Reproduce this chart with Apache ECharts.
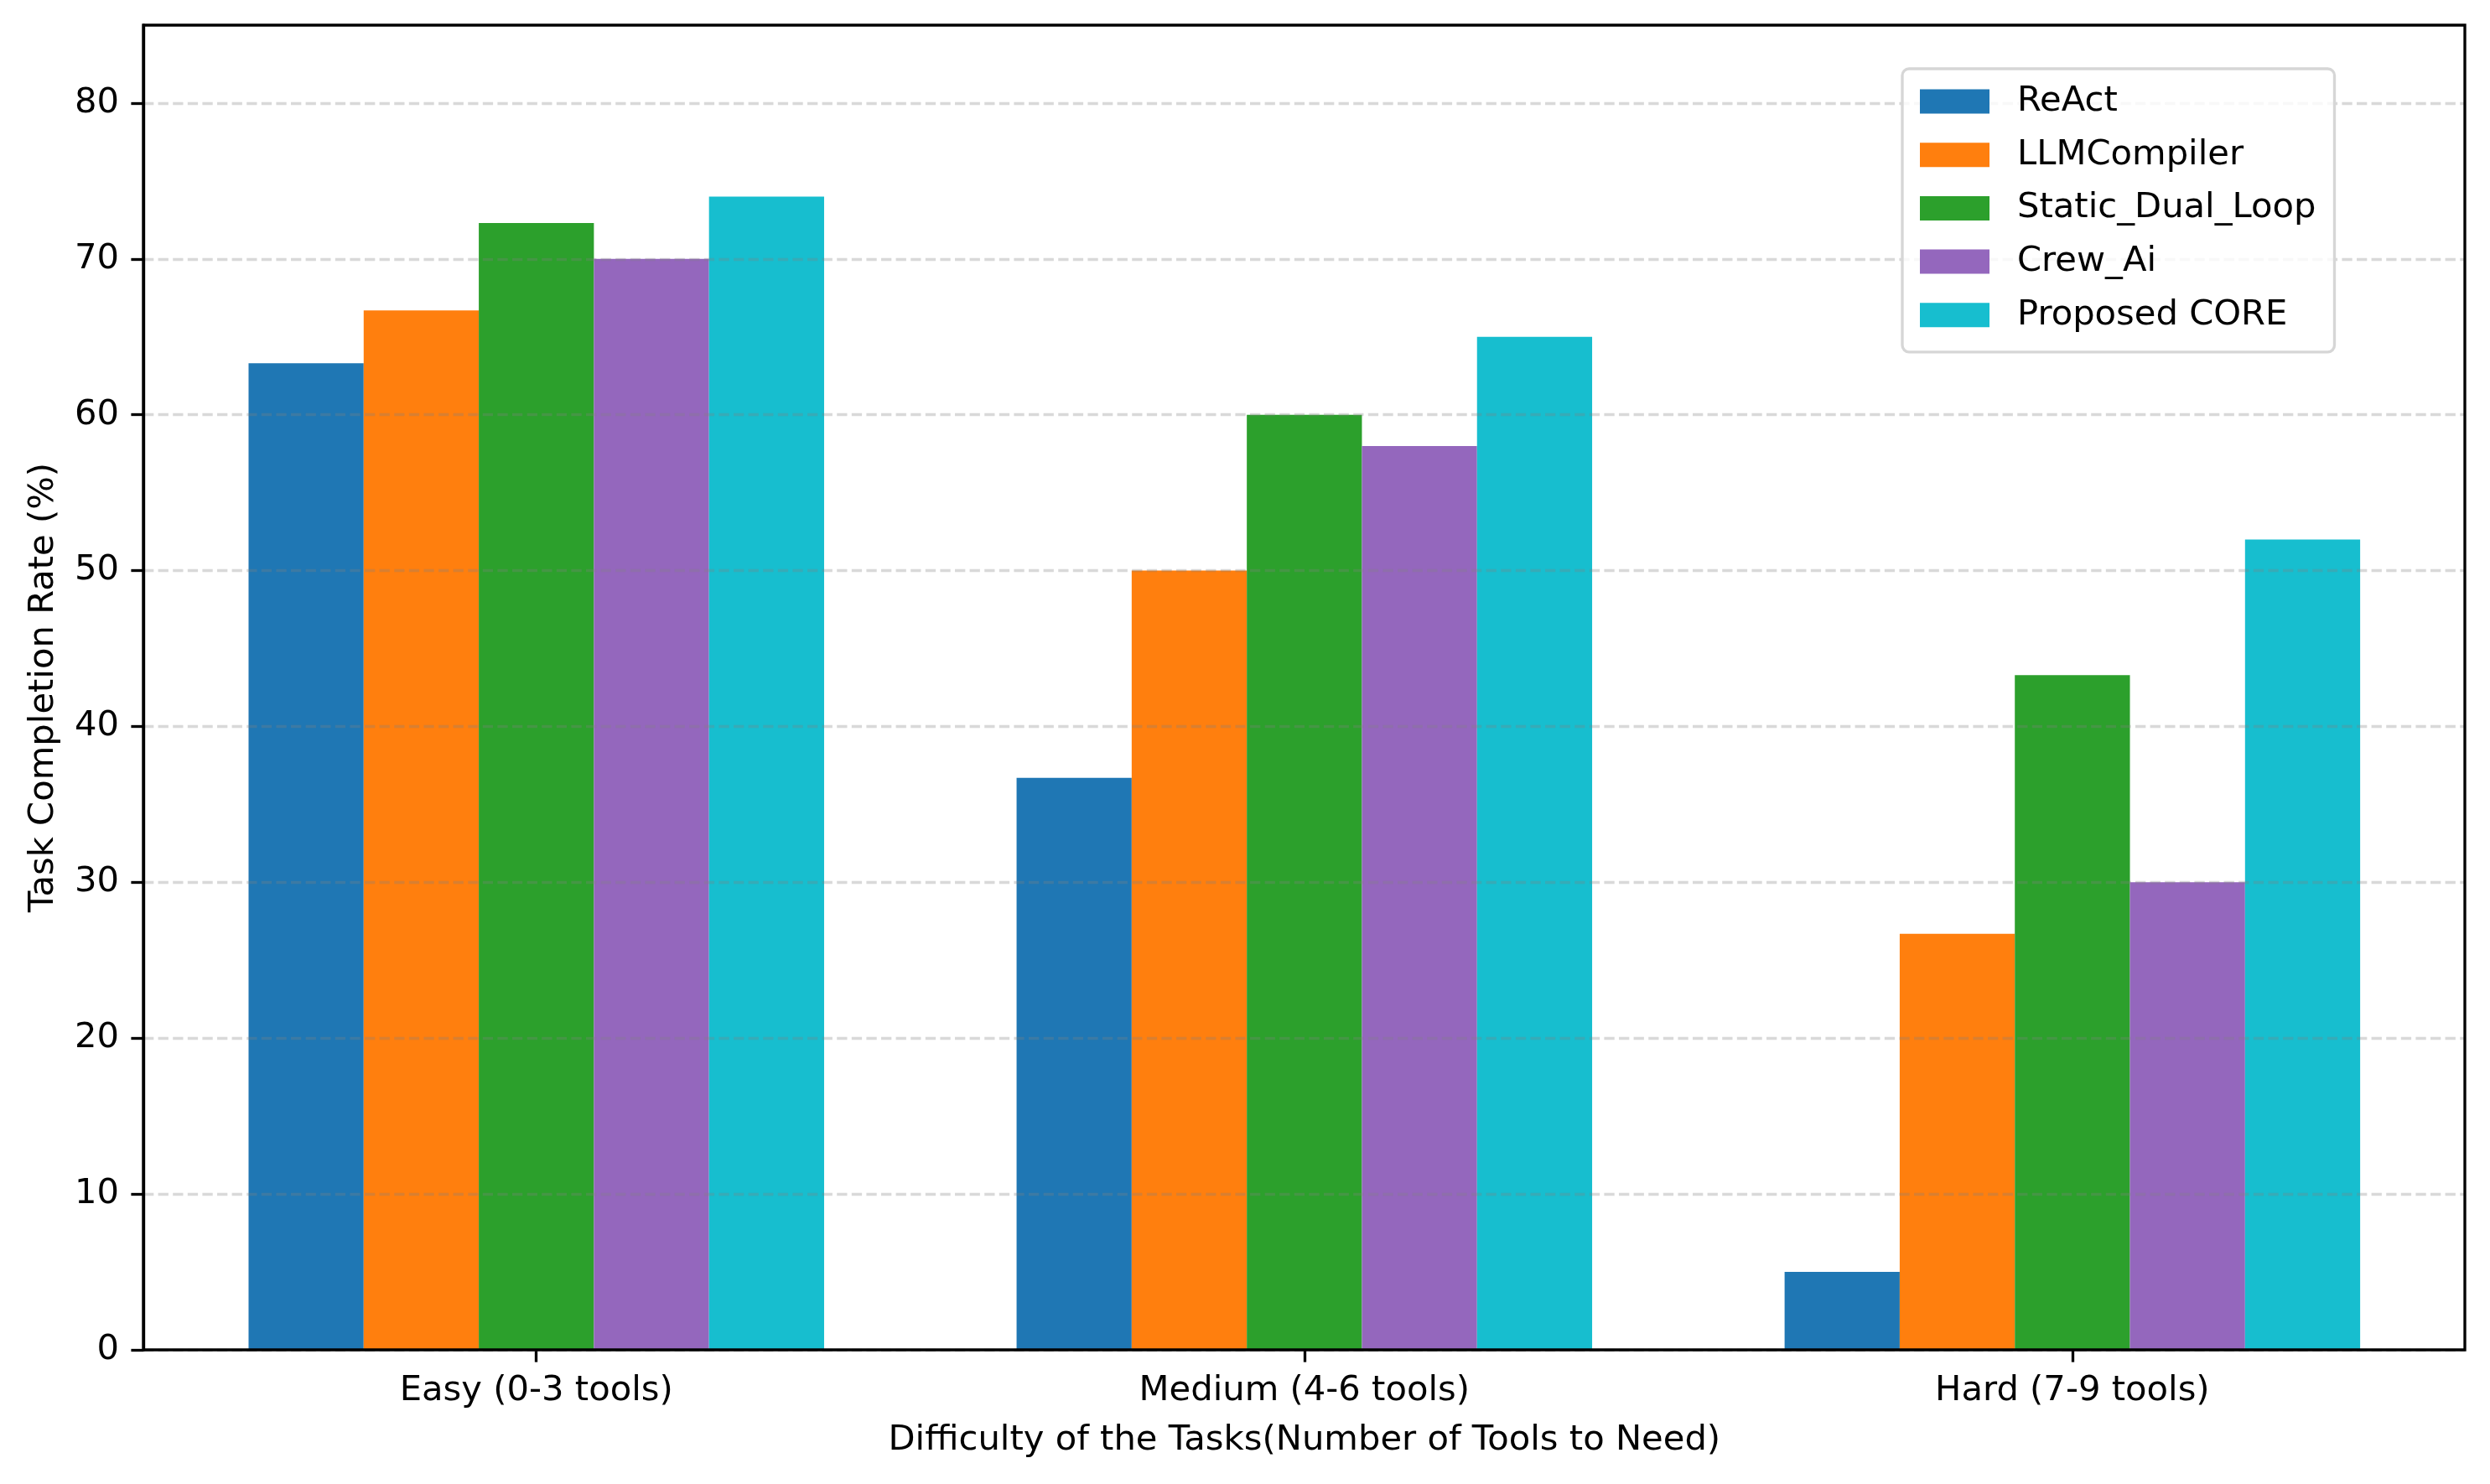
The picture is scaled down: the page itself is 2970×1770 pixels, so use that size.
<!DOCTYPE html>
<html>
<head>
<meta charset="utf-8">
<script src="https://cdn.jsdelivr.net/npm/echarts@6/dist/echarts.min.js"></script>
<style>
html,body{margin:0;padding:0;background:#fff;}
#chart{width:2970px;height:1770px;}
</style>
</head>
<body>
<div id="chart"></div>
<script>
const categories = ['Easy (0-3 tools)', 'Medium (4-6 tools)', 'Hard (7-9 tools)'];
const seriesNames = ['ReAct', 'LLMCompiler', 'Static_Dual_Loop', 'Crew_Ai', 'Proposed CORE'];
const reactValues = [63.3, 36.7, 5.0];
const llmCompilerValues = [66.7, 50.0, 26.7];
const staticDualLoopValues = [72.3, 60.0, 43.3];
const crewAiValues = [70.0, 58.0, 30.0];
const proposedCoreValues = [74.0, 65.0, 52.0];
const yTicks = [0, 10, 20, 30, 40, 50, 60, 70, 80];
const colors = ['#1f77b4', '#ff7f0e', '#2ca02c', '#9467bd', '#17becf'];

const allValues = [reactValues, llmCompilerValues, staticDualLoopValues, crewAiValues, proposedCoreValues];
const FONT = 'DejaVu Sans';
const FS = 41.7;
const LW = 3.33;

const chart = echarts.init(document.getElementById('chart'), null, {renderer: 'canvas'});
chart.setOption({
  backgroundColor: '#ffffff',
  animation: false,
  textStyle: {fontFamily: FONT},
  grid: [
    {left: 181.7, right: 40.1, top: 30, bottom: 160},
    {left: 171, right: 30, top: 30, bottom: 160, show: true, borderColor: '#000', borderWidth: LW, z: 6, backgroundColor: 'transparent'}
  ],
  legend: {
    orient: 'vertical',
    left: 2269, top: 82,
    icon: 'rect',
    itemWidth: 83, itemHeight: 29, itemGap: 21.7,
    padding: [18, 22, 23, 21],
    backgroundColor: 'rgba(255,255,255,0.8)',
    borderColor: '#d6d6d6', borderWidth: LW, borderRadius: 8,
    textStyle: {fontFamily: FONT, fontSize: FS, color: '#000', padding: [0, 0, 0, 28]},
    data: seriesNames,
    z: 10
  },
  xAxis: [
    {
      type: 'category', gridIndex: 0, data: categories,
      axisLine: {show: false},
      axisTick: {show: true, alignWithLabel: true, length: 14.6, lineStyle: {color: '#000', width: LW}},
      axisLabel: {fontFamily: FONT, fontSize: FS, color: '#000', margin: 28},
      splitLine: {show: false},
      name: 'Difficulty of the Tasks(Number of Tools to Need)',
      nameLocation: 'middle', nameGap: 87,
      nameTextStyle: {fontFamily: FONT, fontSize: FS, color: '#000'}
    },
    {
      type: 'value', gridIndex: 1, min: 0, max: 1, show: false
    }
  ],
  yAxis: [
    {type: 'value', gridIndex: 0, min: 0, max: 85, show: false, splitLine: {show: false}},
    {
      type: 'value', gridIndex: 1, min: 0, max: 85, interval: 10, z: 5,
      axisLine: {show: true, lineStyle: {color: '#000', width: LW}},
      axisTick: {show: true, length: 14.6, lineStyle: {color: '#000', width: LW}, customValues: yTicks},
      axisLabel: {fontFamily: FONT, fontSize: FS, color: '#000', margin: 29, customValues: yTicks},
      splitLine: {show: true, lineStyle: {color: 'rgba(128,128,128,0.3)', width: LW, type: [12.3, 5.3]}},
      name: 'Task Completion Rate (%)',
      nameLocation: 'middle', nameGap: 98,
      nameTextStyle: {fontFamily: FONT, fontSize: FS, color: '#000'}
    }
  ],
  series: seriesNames.map((name, i) => ({
    name: name,
    type: 'bar',
    xAxisIndex: 0, yAxisIndex: 0,
    data: allValues[i],
    barWidth: 137.3,
    barGap: '0%',
    itemStyle: {color: colors[i]},
    z: 2
  }))
});
</script>
</body>
</html>
